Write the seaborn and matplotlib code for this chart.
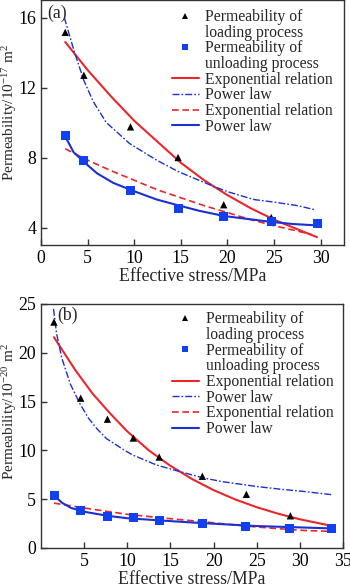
import numpy as np
import pandas as pd
import matplotlib
matplotlib.use("Agg")
import matplotlib.pyplot as plt
import seaborn as sns
from matplotlib.lines import Line2D

# ---------------- Panel (a) data ----------------
a_load_x = [2.6, 4.6, 9.6, 14.7, 19.6, 24.7]
a_load_y = [15.15, 12.7, 9.75, 8.0, 5.3, 4.57]
a_unload_x = [2.6, 4.6, 9.6, 14.7, 19.6, 24.7, 29.7]
a_unload_y = [9.23, 7.85, 6.09, 5.09, 4.63, 4.32, 4.23]
a_exp_load_x = [2.6, 5, 7.5, 10, 12.5, 15, 17.5, 20, 22.5, 25, 27.5, 29.6]
a_exp_load_y = [14.6, 13.0, 11.5, 10.1, 8.9, 7.7, 6.7, 5.85, 5.1, 4.45, 3.9, 3.45]
a_pow_load_x = [2.5, 3.1, 3.6, 4.6, 5.6, 7.0, 9.5, 12.4, 14.7, 18.5, 20, 22.8, 25, 27.5, 29.5]
a_pow_load_y = [16.0, 14.9, 14.0, 12.4, 11.2, 10.0, 8.8, 7.85, 7.2, 6.35, 6.05, 5.6, 5.45, 5.25, 5.0]
a_exp_unload_x = [2.6, 5, 7.5, 10, 12.5, 15, 17.5, 20, 22.5, 25, 27.5, 29.0]
a_exp_unload_y = [8.5, 7.85, 7.25, 6.7, 6.15, 5.7, 5.25, 4.85, 4.45, 4.1, 3.8, 3.6]
a_pow_unload_x = [2.6, 3.5, 4.6, 6, 7.75, 9.7, 12.4, 14.7, 17, 19.7, 22, 24.7, 27, 29.6]
a_pow_unload_y = [9.2, 8.3, 7.75, 7.1, 6.55, 6.13, 5.6, 5.27, 4.95, 4.65, 4.5, 4.32, 4.2, 4.12]

# ---------------- Panel (b) data ----------------
b_load_x = [1.5, 4.6, 7.7, 10.7, 13.7, 18.7, 23.8, 28.9]
b_load_y = [23.15, 15.35, 13.2, 11.27, 9.32, 7.35, 5.5, 3.3]
b_unload_x = [1.6, 4.6, 7.7, 10.7, 13.7, 18.7, 23.7, 28.8, 33.7]
b_unload_y = [5.35, 3.8, 3.2, 3.1, 2.86, 2.52, 2.25, 2.01, 2.0]
b_exp_load_x = [1.5, 4, 6, 8, 10, 12.5, 15, 17.5, 20, 22.5, 25, 27.5, 30, 33.7]
b_exp_load_y = [21.6, 18.2, 15.8, 13.8, 11.95, 10.0, 8.42, 7.07, 5.93, 4.98, 4.18, 3.51, 2.94, 2.27]
b_pow_load_x = [1.45, 1.8, 2.4, 3.4, 4.5, 5.5, 6.5, 7.6, 9.7, 10.7, 13.4, 15.4, 18.7, 21, 25, 28, 30.4, 33.8]
b_pow_load_y = [24.5, 22.0, 19.5, 16.8, 14.8, 13.3, 12.2, 11.2, 10.0, 9.5, 8.5, 8.0, 7.2, 6.8, 6.3, 6.0, 5.8, 5.45]
b_exp_unload_x = [1.5, 5, 10, 15, 18.7, 22, 25, 28, 30.4, 33.8]
b_exp_unload_y = [4.6, 4.1, 3.45, 3.0, 2.7, 2.4, 2.15, 1.95, 1.8, 1.7]
b_pow_unload_x = [1.45, 2.5, 3.5, 5.1, 7.7, 10, 14.9, 18.7, 25, 30.4, 33.8]
b_pow_unload_y = [5.4, 4.6, 4.1, 3.7, 3.3, 3.05, 2.76, 2.55, 2.25, 2.1, 2.0]

legend_labels = ["Permeability of", "loading process", "Permeability of",
                 "unloading process", "Exponential relation", "Power law",
                 "Exponential relation", "Power law"]

RED = "#e8262b"
BLUE = "#1c2fd0"
SQ = "#1040f0"
DASHDOT = (0, (5, 1.5, 1.2, 1.5))
DASHED = (0, (4, 2.2))

sns.set_style("ticks")
plt.rcParams["font.family"] = ["Liberation Serif", "DejaVu Serif"]
plt.rcParams["mathtext.fontset"] = "custom"
plt.rcParams["mathtext.rm"] = "Liberation Serif"
plt.rcParams["mathtext.it"] = "Liberation Serif:italic"
plt.rcParams["axes.unicode_minus"] = True

fig = plt.figure(figsize=(3.5, 5.85), dpi=100)
axA = fig.add_axes([41/350, 1 - 245/585, 303/350, 245/585])
axB = fig.add_axes([41/350, 1 - 548/585, 302/350, 244/585])


def draw(ax, lx, ly, ux, uy, elx, ely, plx, ply, eux, euy, pux, puy):
    sns.lineplot(x=elx, y=ely, ax=ax, color=RED, lw=1.5, estimator=None, sort=False)
    sns.lineplot(x=plx, y=ply, ax=ax, color=BLUE, lw=1.0, linestyle=DASHDOT, estimator=None, sort=False)
    sns.lineplot(x=eux, y=euy, ax=ax, color=RED, lw=1.2, linestyle=DASHED, estimator=None, sort=False)
    sns.lineplot(x=pux, y=puy, ax=ax, color=BLUE, lw=1.5, estimator=None, sort=False)
    sns.scatterplot(x=lx, y=ly, ax=ax, marker="^", color="black", s=28, edgecolor="none", zorder=5)
    sns.scatterplot(x=ux, y=uy, ax=ax, marker="s", color=SQ, s=42, edgecolor="none", zorder=5)


draw(axA, a_load_x, a_load_y, a_unload_x, a_unload_y, a_exp_load_x, a_exp_load_y,
     a_pow_load_x, a_pow_load_y, a_exp_unload_x, a_exp_unload_y, a_pow_unload_x, a_pow_unload_y)
draw(axB, b_load_x, b_load_y, b_unload_x, b_unload_y, b_exp_load_x, b_exp_load_y,
     b_pow_load_x, b_pow_load_y, b_exp_unload_x, b_exp_unload_y, b_pow_unload_x, b_pow_unload_y)

axA.set_xlim(0, 32.5)
axA.set_ylim(3, 17)
axA.set_xticks([0, 5, 10, 15, 20, 25, 30])
axA.set_yticks([4, 8, 12, 16])
axB.set_xlim(0, 35)
axB.set_ylim(0, 25)
axB.set_xticks([5, 10, 15, 20, 25, 30, 35])
axB.set_yticks([0, 5, 10, 15, 20, 25])

FS = 11.3
AFS = 12.8
for ax, unit, tag, tagpos, legpos, yl in [
        (axA, "17", "(a)", (0.02, 0.947), (0.431, 0.963), (-0.073, 0.54, 11.0)),
        (axB, "20", "(b)", (0.053, 0.955), (0.433, 0.970), (-0.073, 0.56, 11.0))]:
    for s in ax.spines.values():
        s.set_visible(True)
        s.set_linewidth(1.0)
        s.set_color("#333333")
    ax.tick_params(direction="in", length=4, width=1.0, colors="#333333",
                   labelcolor="black", labelsize=AFS, pad=3.5)
    ax.set_xlabel("Effective stress/MPa", fontsize=AFS, labelpad=1)
    ax.set_ylabel("Permeability/10$^{-" + unit + "}$ m$^2$", fontsize=yl[2])
    ax.yaxis.set_label_coords(yl[0], yl[1])
    ax.text(tagpos[0], tagpos[1], tag, transform=ax.transAxes, fontsize=AFS,
            ha="left", va="center")
    handles = [
        Line2D([], [], ls="none", marker="^", color="black", markersize=4.5, markeredgewidth=0),
        Line2D([], [], ls="none"),
        Line2D([], [], ls="none", marker="s", color=SQ, markersize=5, markeredgewidth=0),
        Line2D([], [], ls="none"),
        Line2D([], [], color=RED, lw=1.5),
        Line2D([], [], color=BLUE, lw=1.0, linestyle=DASHDOT),
        Line2D([], [], color=RED, lw=1.2, linestyle=DASHED),
        Line2D([], [], color=BLUE, lw=1.5),
    ]
    ax.legend(handles, legend_labels, loc="upper left", bbox_to_anchor=legpos,
              frameon=False, fontsize=FS, borderpad=0, borderaxespad=0,
              handlelength=1.75, handletextpad=0.4, labelspacing=-0.02)

fig.savefig("out.png", dpi=100)
